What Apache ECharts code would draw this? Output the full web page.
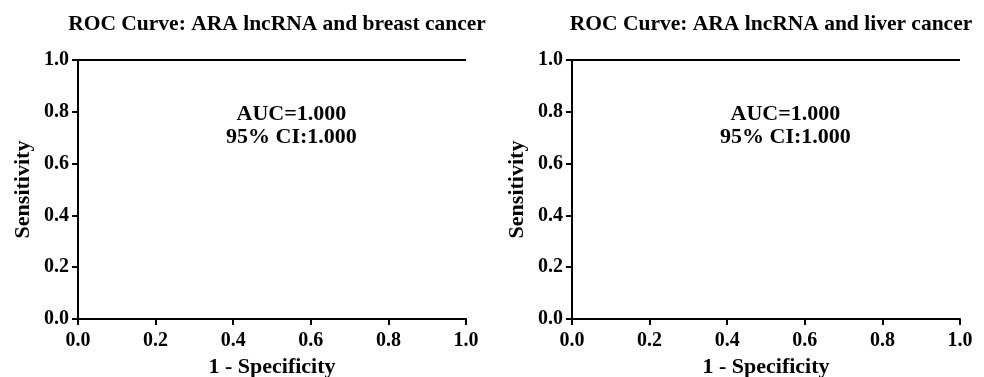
<!DOCTYPE html>
<html>
<head>
<meta charset="utf-8">
<script src="https://cdn.jsdelivr.net/npm/echarts@6/dist/echarts.min.js"></script>
<style>
  html, body { margin: 0; padding: 0; background: #fff; }
  #chart { width: 984px; height: 377px; }
</style>
</head>
<body>
<div id="chart"></div>
<script>
// chart data
var titles = ['ROC Curve: ARA lncRNA and breast cancer', 'ROC Curve: ARA lncRNA and liver cancer'];
var rocBreast = [[0, 0], [0, 1], [1, 1]];
var rocLiver = [[0, 0], [0, 1], [1, 1]];
var aucText = ['AUC=1.000', '95% CI:1.000'];
var aucPos = [[0.55, 0.79], [0.55, 0.70]];
var ticks = [0, 0.2, 0.4, 0.6, 0.8, 1.0];

var serif = '"Liberation Serif", "Times New Roman", serif';
var black = '#000';

var chart = echarts.init(document.getElementById('chart'));

function fmt(v) { return v.toFixed(1); }

function xAxisFor(i) {
  return {
    gridIndex: i, type: 'value', min: ticks[0], max: ticks[ticks.length - 1], interval: 0.2,
    name: '1 - Specificity', nameLocation: 'middle', nameGap: 36,
    nameTextStyle: { fontFamily: serif, fontWeight: 'bold', fontSize: 22, color: black },
    axisLine: { lineStyle: { color: black, width: 2 } },
    axisTick: { show: true, length: 6, lineStyle: { color: black, width: 2 } },
    axisLabel: { fontFamily: serif, fontWeight: 'bold', fontSize: 20, color: black, margin: 12, formatter: fmt },
    splitLine: { show: false }
  };
}
function yAxisFor(i) {
  return {
    gridIndex: i, type: 'value', min: ticks[0], max: ticks[ticks.length - 1], interval: 0.2,
    name: 'Sensitivity', nameLocation: 'middle', nameGap: 44,
    nameTextStyle: { fontFamily: serif, fontWeight: 'bold', fontSize: 22, color: black },
    axisLine: { show: true, lineStyle: { color: black, width: 2 } },
    axisTick: { show: true, length: 6, lineStyle: { color: black, width: 2 } },
    axisLabel: { fontFamily: serif, fontWeight: 'bold', fontSize: 20, color: black, margin: 9, formatter: fmt },
    splitLine: { show: false }
  };
}
function rocSeries(i, data) {
  return {
    type: 'line', xAxisIndex: i, yAxisIndex: i, data: data,
    symbol: 'none', lineStyle: { color: black, width: 2 }, animation: false
  };
}
function aucSeries(i) {
  return {
    type: 'scatter', xAxisIndex: i, yAxisIndex: i, symbolSize: 1, animation: false, silent: true,
    itemStyle: { color: 'transparent', opacity: 1 },
    data: aucPos.map(function (p, k) { return { value: p, name: aucText[k] }; }),
    label: { show: true, position: 'inside', formatter: '{b}', opacity: 1,
             fontFamily: serif, fontWeight: 'bold', fontSize: 22, color: black }
  };
}

var titleStyle = { fontFamily: serif, fontWeight: 'bold', fontSize: 21.5, color: black };

chart.setOption({
  backgroundColor: '#fff',
  title: [
    { text: titles[0], left: 272, top: 8, textAlign: 'center', textStyle: titleStyle },
    { text: titles[1], left: 766, top: 8, textAlign: 'center', textStyle: titleStyle }
  ],
  grid: [
    { left: 78, width: 388, top: 60, height: 259, outerBoundsMode: 'none', containLabel: false },
    { left: 572, width: 388, top: 60, height: 259, outerBoundsMode: 'none', containLabel: false }
  ],
  xAxis: [xAxisFor(0), xAxisFor(1)],
  yAxis: [yAxisFor(0), yAxisFor(1)],
  series: [rocSeries(0, rocBreast), rocSeries(1, rocLiver), aucSeries(0), aucSeries(1)]
});
</script>
</body>
</html>
